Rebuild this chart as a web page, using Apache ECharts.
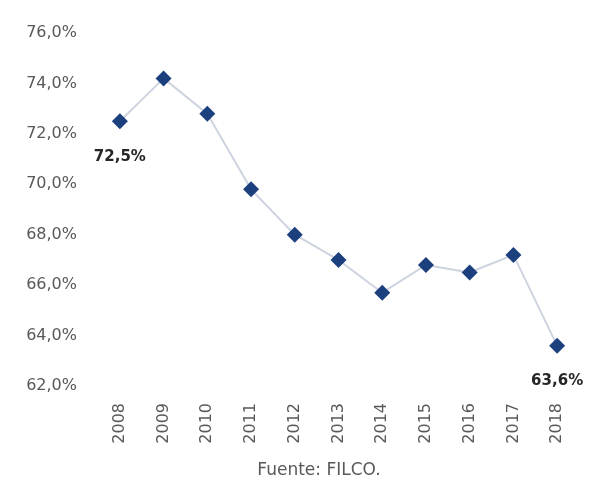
<!DOCTYPE html>
<html><head><meta charset="utf-8">
<script src="https://cdn.jsdelivr.net/npm/echarts@6/dist/echarts.min.js"></script>
<style>html,body{margin:0;padding:0;background:#fff}#c{width:590px;height:487px}</style>
</head><body><div id="c"></div>
<script>
var years = ['2008','2009','2010','2011','2012','2013','2014','2015','2016','2017','2018'];
var values = [72.5, 74.2, 72.8, 69.8, 68.0, 67.0, 65.7, 66.8, 66.5, 67.2, 63.6];
var yTicks = [62, 64, 66, 68, 70, 72, 74, 76];
var labeledIdx = [0, 10];
var sourceText = 'Fuente: FILCO.';
var FONT = 'DejaVu Sans';

function fmt(v){ return v.toFixed(1).replace('.', ',') + '%'; }

var chart = echarts.init(document.getElementById('c'));
chart.setOption({
  animation: false,
  textStyle: {fontFamily: FONT},
  grid: {left: 98, right: 11, top: 33, bottom: 101},
  title: {text: sourceText, left: 314, top: 457, textAlign: 'center',
    textStyle: {fontSize: 17, fontWeight: 'normal', color: '#595959', fontFamily: FONT}},
  xAxis: {type: 'category', data: years, boundaryGap: true,
    axisLine: {show: false}, axisTick: {show: false},
    axisLabel: {rotate: 90, color: '#595959', fontSize: 16, margin: 17, fontFamily: FONT}},
  yAxis: {type: 'value', min: yTicks[0], max: yTicks[yTicks.length-1], interval: 2,
    splitLine: {show: false}, axisLine: {show: false}, axisTick: {show: false},
    axisLabel: {color: '#595959', fontSize: 16, margin: 21, formatter: function(v){return fmt(v);}, fontFamily: FONT}},
  series: [{
    type: 'line', data: values.map(function(v, i){
      var d = {value: v};
      if (labeledIdx.indexOf(i) >= 0) {
        d.label = {show: true, position: 'bottom', distance: 20,
          formatter: fmt(v), fontWeight: 'bold', fontSize: 15, color: '#262626', fontFamily: FONT};
      }
      return d;
    }),
    symbol: 'diamond', symbolSize: 16,
    itemStyle: {color: '#1c3f7e'},
    lineStyle: {color: '#cdd3df', width: 2}
  }]
});
</script></body></html>
